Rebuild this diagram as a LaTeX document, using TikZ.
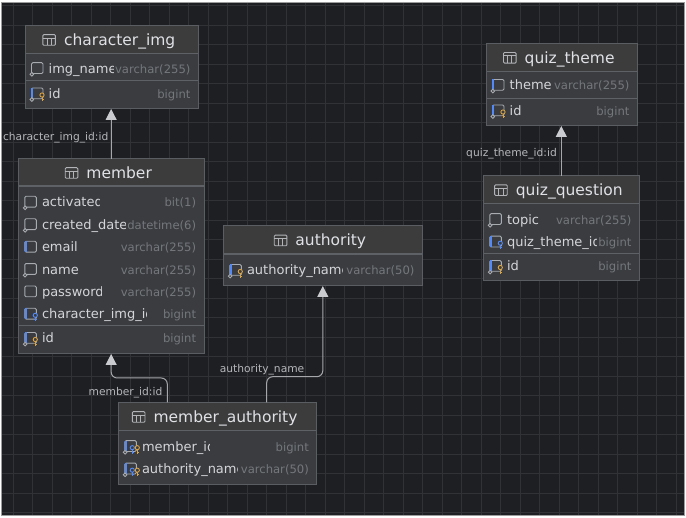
\documentclass[tikz,border=0pt]{standalone}
\usepackage{fontspec}
\setmainfont{DejaVu Sans}
\usetikzlibrary{arrows.meta,calc}
\definecolor{bgc}{HTML}{1E1F22}
\definecolor{gridc}{HTML}{303236}
\definecolor{tbody}{HTML}{3A3C40}
\definecolor{ttitle}{HTML}{3C3C3D}
\definecolor{tdivc}{HTML}{5E6165}
\definecolor{tborderc}{HTML}{5A5D62}
\definecolor{titlec}{HTML}{DFE1E5}
\definecolor{namec}{HTML}{D3D5D9}
\definecolor{typec}{HTML}{74777C}
\definecolor{labelc}{HTML}{B4B6BA}
\definecolor{connc}{HTML}{A5A7AB}
\definecolor{arrowc}{HTML}{C9CBCE}
\definecolor{icgrayc}{HTML}{A8ABB0}
\definecolor{icbluec}{HTML}{548AF7}
\definecolor{icyellowc}{HTML}{D9A343}
\definecolor{framec}{HTML}{9C9C9C}
\tikzset{
  tbl/.style={fill=tbody, inner sep=0, outer sep=0, anchor=north west, rectangle},
  ttl/.style={font=\fontsize{15.5}{18}\selectfont, text=titlec, anchor=base, inner sep=0},
  rname/.style={font=\fontsize{13}{15}\selectfont, text=namec, anchor=base west, inner sep=0},
  rtype/.style={font=\fontsize{11.6}{14}\selectfont, text=typec, anchor=base east, inner sep=0},
  lbl/.style={font=\fontsize{10.7}{13}\selectfont, text=labelc, anchor=base east, inner sep=0},
  conn/.style={draw=connc, line width=1pt, rounded corners=6pt, -{Triangle[width=11pt,length=11pt,color=arrowc]}},
  gridline/.style={draw=gridc, line width=0.9pt},
  icline/.style={line width=0.9pt},
}
% table icon
\newcommand\tabicon[1]{\begin{scope}[shift={#1}]
  \draw[titlec!80!black, icline, rounded corners=1pt] (-6.3,-5.3) rectangle (6.3,5.3);
  \draw[titlec!80!black, icline] (-6.3,-2) -- (6.3,-2) (-2.1,-2) -- (-2.1,5.3) (2.1,-2) -- (2.1,5.3);
\end{scope}}
% table box: name, x1, y1, x2, y2, title divider y, title
\newcommand\erbox[7]{%
  \node[tbl, minimum width={#4-#2}, minimum height={#5-#3}] (#1) at (#2,#3) {};
  \fill[ttitle] (#2,#3) rectangle (#4,#6);
  \draw[tdivc, line width=1.5pt] (#2,#6) -- (#4,#6);
  \node[ttl] (#1-t) at ({(#2+#4)/2+8},{(#3+#6)/2+6}) {#7};
  \tabicon{($(#1-t.base west)+(-14.7,-5.5)$)}%
}
\newcommand\erborder[1]{\draw[tborderc, line width=1pt] (#1.north west) rectangle (#1.south east);}
% column icons
\newcommand\icrect[2]{\draw[icgrayc, icline, rounded corners=1.2pt] (#1+1.5,#2-6) rectangle (#1+13,#2+4.8);}
\newcommand\icbar[2]{\draw[icbluec, line width=2.2pt] (#1+2.3,#2-6) -- (#1+2.3,#2+4.8);}
\newcommand\icnull[2]{\draw[icgrayc, icline, fill=tbody] (#1+1.8,#2+5.6) circle (1.8);}
\newcommand\ickey[3]{\draw[#3, icline, fill=tbody] (#1,#2+1) circle (2.1);
  \draw[#3, icline] (#1,#2+3.1) -- (#1,#2+7.2) (#1,#2+5.6) -- (#1+1.7,#2+5.6);}
\newcommand\icN[2]{\icrect{#1}{#2}\icnull{#1}{#2}}
\newcommand\icP[2]{\icrect{#1}{#2}}
\newcommand\icU[2]{\icrect{#1}{#2}\icbar{#1}{#2}}
\newcommand\icUN[2]{\icrect{#1}{#2}\icbar{#1}{#2}\icnull{#1}{#2}}
\newcommand\icFK[2]{\icrect{#1}{#2}\icbar{#1}{#2}\ickey{#1+12}{#2}{icbluec}}
\newcommand\icPK[2]{\icrect{#1}{#2}\icbar{#1}{#2}\icnull{#1}{#2}\ickey{#1+12}{#2}{icyellowc}}
\newcommand\icPF[2]{\icrect{#1}{#2}\icbar{#1}{#2}\icnull{#1}{#2}\ickey{#1+9}{#2}{icbluec}\ickey{#1+14}{#2}{icyellowc}}
% row: node name, box x1, box x2, row center y, icon macro, name, clip x, type
\newcommand\erow[8]{%
  #5{#2+5}{#4}%
  \begin{scope}\clip (#2,#4-10) rectangle (#7,#4+10);
    \node[rname] (#1-n) at (#2+23.5,#4+4.5) {#6};
  \end{scope}
  \node[rtype] (#1-y) at (#3-7.7,#4+4.5) {#8};
}
\begin{document}
\begin{tikzpicture}[x=1pt,y=-1pt]
\useasboundingbox (0,0) rectangle (686,518);
\fill[white] (0,0) rectangle (686,518);
\fill[bgc] (1,2) rectangle (684.5,515);
\begin{scope}
  \clip (1,2) rectangle (684.5,515);
  \foreach \gx in {13.3,32.8,...,685} \draw[gridline] (\gx,2) -- (\gx,515);
  \foreach \gy in {5.5,25,...,516} \draw[gridline] (1,\gy) -- (684.5,\gy);
\end{scope}
\draw[framec, line width=0.8pt] (1,2) rectangle (684.5,515);

% character_img
\erbox{ci}{25}{25.7}{198.3}{109}{53.3}{character\_img}
\draw[tdivc, line width=1pt] (25,81) -- (198.3,81);
\erow{ci1}{25}{198.3}{68.7}{\icN}{img\_name}{113.3}{varchar(255)}
\erow{ci2}{25}{198.3}{94}{\icPK}{id}{198.3}{bigint}
\erborder{ci}

% member
\erbox{mb}{18.3}{159}{204}{354}{186}{member}
\draw[tdivc, line width=1pt] (18.3,326) -- (204,326);
\erow{mb1}{18.3}{204}{202.3}{\icN}{activated}{99.3}{bit(1)}
\erow{mb2}{18.3}{204}{224.8}{\icN}{created\_date}{125}{datetime(6)}
\erow{mb3}{18.3}{204}{247.3}{\icU}{email}{204}{varchar(255)}
\erow{mb4}{18.3}{204}{269.6}{\icN}{name}{204}{varchar(255)}
\erow{mb5}{18.3}{204}{292}{\icP}{password}{101.5}{varchar(255)}
\erow{mb6}{18.3}{204}{314.3}{\icFK}{character\_img\_id}{146.7}{bigint}
\erow{mb7}{18.3}{204}{338.5}{\icPK}{id}{204}{bigint}
\erborder{mb}

% authority
\erbox{au}{223.3}{226}{422.3}{286}{254}{authority}
\erow{au1}{223.3}{422.3}{270.5}{\icPK}{authority\_name}{342.7}{varchar(50)}
\erborder{au}

% quiz_theme
\erbox{qt}{486}{43.3}{637.3}{126}{71.3}{quiz\_theme}
\draw[tdivc, line width=1pt] (486,98.3) -- (637.3,98.3);
\erow{qt1}{486}{637.3}{85.5}{\icUN}{theme}{637.3}{varchar(255)}
\erow{qt2}{486}{637.3}{111}{\icPK}{id}{637.3}{bigint}
\erborder{qt}

% quiz_question
\erbox{qq}{483.3}{175.7}{639.3}{280.7}{203.7}{quiz\_question}
\draw[tdivc, line width=1pt] (483.3,254) -- (639.3,254);
\erow{qq1}{483.3}{639.3}{219.7}{\icN}{topic}{639.3}{varchar(255)}
\erow{qq2}{483.3}{639.3}{242.2}{\icFK}{quiz\_theme\_id}{596}{bigint}
\erow{qq3}{483.3}{639.3}{266.5}{\icPK}{id}{639.3}{bigint}
\erborder{qq}

% member_authority
\erbox{ma}{118.3}{402.3}{316.7}{485}{430.7}{member\_authority}
\erow{ma1}{118.3}{316.7}{446.7}{\icPF}{member\_id}{209.3}{bigint}
\erow{ma2}{118.3}{316.7}{469.2}{\icPF}{authority\_name}{237.3}{varchar(50)}
\erborder{ma}

% connectors
\draw[conn] (mb.north) -- (mb.north |- ci.south);
\draw[conn] (qq.north) -- (qq.north |- qt.south);
\coordinate (ma1c) at ($(ma.north west)+(49,0)$);
\coordinate (ma2c) at ($(ma.north west)+(148.4,0)$);
\draw[conn] (ma1c) |- ($(mb.south)+(0,24)$) -- (mb.south);
\draw[conn] (ma2c) |- ($(au.south)+(0,90.7)$) -- (au.south);

% labels
\node[lbl] (l1) at (108.5,140.7) {character\_img\_id:id};
\node[lbl] (l2) at (162.5,395.7) {member\_id:id};
\node[lbl] (l3) at (304.5,373) {authority\_name};
\node[lbl] (l4) at (557,156.3) {quiz\_theme\_id:id};
\end{tikzpicture}
\end{document}
